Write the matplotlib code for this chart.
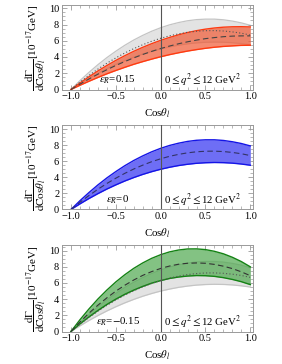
import matplotlib
matplotlib.use("Agg")
import matplotlib.pyplot as plt
from matplotlib.ticker import MultipleLocator

plt.rcParams['font.family'] = ['Liberation Serif', 'DejaVu Serif']
plt.rcParams['mathtext.fontset'] = 'stix'

cos_theta = [-1.0, -0.9, -0.8, -0.7, -0.6, -0.5, -0.4, -0.3, -0.2, -0.1, 0.0,
             0.1, 0.2, 0.3, 0.4, 0.5, 0.6, 0.7, 0.8, 0.9, 1.0]

# epsilon_R = 0 (reference band)
sm_upper = [0, 1.09, 2.10, 3.05, 3.92, 4.71, 5.44, 6.09, 6.66, 7.17, 7.60,
            7.96, 8.24, 8.46, 8.60, 8.66, 8.66, 8.58, 8.42, 8.20, 7.90]
sm_lower = [0, 0.70, 1.36, 1.97, 2.54, 3.06, 3.54, 3.97, 4.36, 4.70, 5.00,
            5.25, 5.46, 5.62, 5.74, 5.81, 5.84, 5.82, 5.76, 5.65, 5.50]
sm_mid = [0, 0.90, 1.73, 2.51, 3.23, 3.89, 4.49, 5.03, 5.51, 5.94, 6.30,
          6.61, 6.85, 7.04, 7.17, 7.24, 7.25, 7.20, 7.09, 6.93, 6.70]

# epsilon_R = 0.15
p_upper = [0, 0.80, 1.56, 2.28, 2.95, 3.58, 4.16, 4.70, 5.19, 5.64, 6.05,
           6.41, 6.73, 7.01, 7.24, 7.43, 7.57, 7.67, 7.72, 7.73, 7.70]
p_lower = [0, 0.52, 1.01, 1.48, 1.93, 2.34, 2.73, 3.10, 3.43, 3.74, 4.03,
           4.29, 4.52, 4.73, 4.91, 5.07, 5.20, 5.30, 5.37, 5.43, 5.45]
p_mid = [0, 0.66, 1.29, 1.88, 2.43, 2.96, 3.44, 3.89, 4.31, 4.69, 5.04,
         5.35, 5.63, 5.87, 6.08, 6.26, 6.39, 6.50, 6.57, 6.60, 6.60]

# epsilon_R = -0.15
m_upper = [0, 1.45, 2.78, 4.01, 5.12, 6.13, 7.02, 7.81, 8.48, 9.05, 9.50,
           9.85, 10.08, 10.21, 10.22, 10.13, 9.92, 9.61, 9.18, 8.65, 8.00]
m_lower = [0, 0.94, 1.80, 2.60, 3.34, 4.00, 4.60, 5.12, 5.58, 5.98, 6.30,
           6.56, 6.74, 6.86, 6.92, 6.90, 6.82, 6.66, 6.44, 6.16, 5.80]
m_mid = [0, 1.17, 2.26, 3.25, 4.16, 4.99, 5.72, 6.37, 6.94, 7.41, 7.80,
         8.10, 8.32, 8.44, 8.48, 8.44, 8.30, 8.08, 7.78, 7.38, 6.90]

eps_labels = [r'$\epsilon_R$=0.15', r'$\epsilon_R$=0', r'$\epsilon_R$=$-$0.15']
q2_label = r'0$\leq q^2\leq$12 GeV$^2$'
x_ticks = [-1.0, -0.5, 0.0, 0.5, 1.0]
x_ticklabels = ['\u22121.0', '\u22120.5', '0.0', '0.5', '1.0']
y_ticks = [0, 2, 4, 6, 8, 10]

fig = plt.figure(figsize=(2.82, 3.64), dpi=100)
W, H = 282, 364
panels = [(5, 89.5, 10.4), (125, 209.5, 10.5), (245, 331.5, 10.7)]
left_px, right_px = 62, 253

frame_col = '#9a9a9a'
for i, (top, bot, ytop) in enumerate(panels):
    ax = fig.add_axes([left_px / W, 1 - bot / H, (right_px - left_px) / W, (bot - top) / H])
    if i == 0:
        ax.fill_between(cos_theta, sm_lower, sm_upper, color='#e3e3e3', lw=0, zorder=1)
        ax.plot(cos_theta, sm_upper, color='#c4c4c4', lw=0.9, zorder=1.5)
        ax.plot(cos_theta, sm_lower, color='#c4c4c4', lw=0.9, zorder=1.5)
        ax.fill_between(cos_theta, p_lower, p_upper, color='#f05a35', alpha=0.7, lw=0, zorder=2)
        ax.plot(cos_theta, p_upper, color='#ff3a10', lw=1.0, zorder=3)
        ax.plot(cos_theta, p_lower, color='#ff3a10', lw=1.0, zorder=3)
        ax.plot(cos_theta, sm_mid, color='#555555', lw=0.8, ls=(0, (1, 2)), zorder=4)
        ax.plot(cos_theta, p_mid, color='#444444', lw=0.8, ls=(0, (5, 3)), zorder=4)
    elif i == 1:
        ax.fill_between(cos_theta, sm_lower, sm_upper, color='#6e6ef5', lw=0, zorder=2)
        ax.plot(cos_theta, sm_upper, color='#1414e6', lw=1.0, zorder=3)
        ax.plot(cos_theta, sm_lower, color='#1414e6', lw=1.0, zorder=3)
        ax.plot(cos_theta, sm_mid, color='#333366', lw=0.8, ls=(0, (5, 3)), zorder=4)
    else:
        ax.fill_between(cos_theta, sm_lower, sm_upper, color='#e3e3e3', lw=0, zorder=1)
        ax.plot(cos_theta, sm_upper, color='#c4c4c4', lw=0.9, zorder=1.5)
        ax.plot(cos_theta, sm_lower, color='#c4c4c4', lw=0.9, zorder=1.5)
        ax.fill_between(cos_theta, m_lower, m_upper, color='#4ea84e', alpha=0.7, lw=0, zorder=2)
        ax.plot(cos_theta, m_upper, color='#148214', lw=1.0, zorder=3)
        ax.plot(cos_theta, m_lower, color='#148214', lw=1.0, zorder=3)
        ax.plot(cos_theta, sm_mid, color='#555555', lw=0.8, ls=(0, (1, 2)), zorder=4)
        ax.plot(cos_theta, m_mid, color='#333333', lw=0.8, ls=(0, (5, 3)), zorder=4)

    ax.axvline(0, color='#555555', lw=0.8, zorder=5)
    ax.set_xlim(-1.1, 1.03)
    ax.set_ylim(0, ytop)
    ax.set_xticks(x_ticks)
    ax.set_xticklabels(x_ticklabels)
    ax.set_yticks(y_ticks)
    ax.xaxis.set_minor_locator(MultipleLocator(0.1))
    ax.yaxis.set_minor_locator(MultipleLocator(0.5))
    ax.tick_params(which='both', direction='in', top=True, right=True,
                   color=frame_col, labelsize=7.5, pad=2)
    ax.tick_params(which='major', length=3.5, width=0.6)
    ax.tick_params(which='minor', length=2, width=0.5)
    for s in ax.spines.values():
        s.set_color(frame_col)
        s.set_linewidth(0.7)
    ax.text(-0.48, 1.15, eps_labels[i], fontsize=7.8, ha='center', va='center', zorder=6)
    ax.text(0.47, 1.15, q2_label, fontsize=7.8, ha='center', va='center', zorder=6)
    ax.set_xlabel(r'Cos$\theta_l$', fontsize=7.8, labelpad=4)
    ax.set_ylabel(r'$\dfrac{\mathrm{d}\Gamma}{\mathrm{dCos}\theta_l}$[10$^{-17}$GeV]',
                  fontsize=8, labelpad=1)

fig.savefig('out.png', dpi=100)
